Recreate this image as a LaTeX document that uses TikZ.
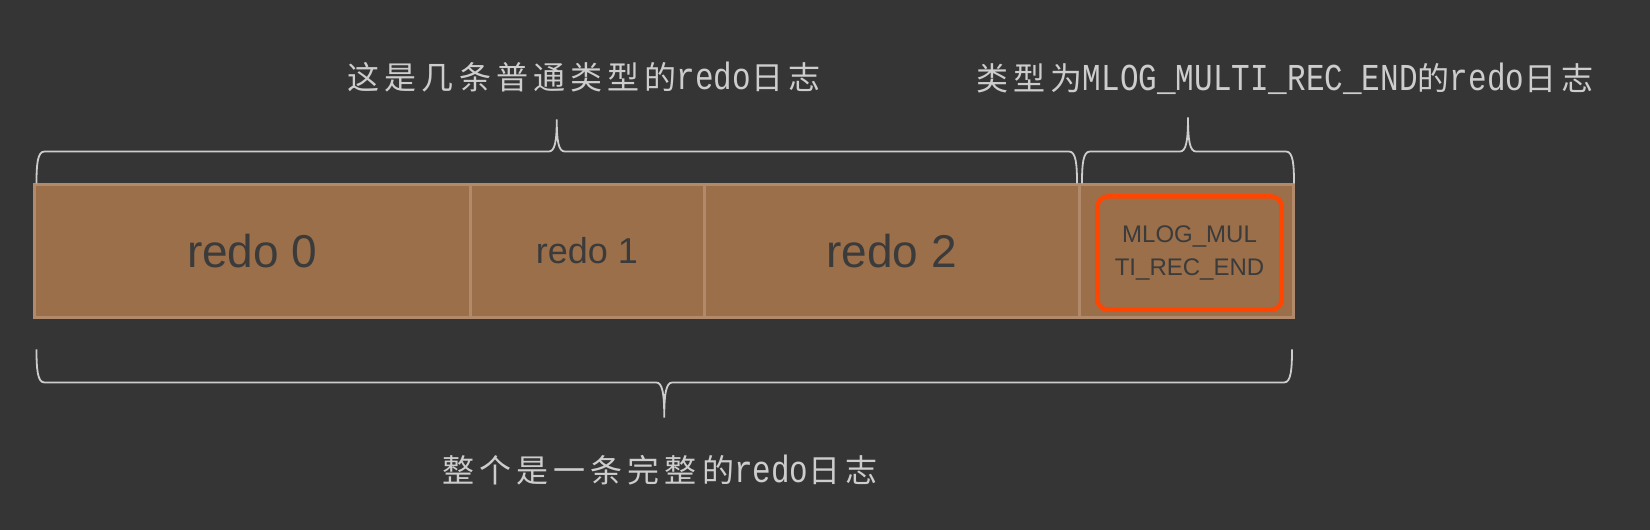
\documentclass[tikz,border=0pt]{standalone}
\usepackage{fontspec}
\setmainfont{Liberation Sans}
\newfontfamily\cjkfont[LetterSpace=16]{Noto Sans CJK SC}
\newfontfamily\monofont[FakeStretch=0.816]{Liberation Mono}
\usepackage{tikz}
\usetikzlibrary{positioning,calc}

\definecolor{bgcol}{HTML}{353535}
\definecolor{segfill}{HTML}{9A6F4A}
\definecolor{segline}{HTML}{B08A6B}
\definecolor{segtext}{HTML}{3B3B3B}
\definecolor{markred}{HTML}{FF4500}
\definecolor{notegray}{HTML}{CDCDCD}

\newcommand{\zh}[1]{{\cjkfont\fontsize{32pt}{36pt}\selectfont #1}}
\newcommand{\en}[1]{{\monofont\fontsize{38pt}{36pt}\selectfont #1}}

% #1,#2 end points, #3 rise to the bar, #4 rise of the tip
\newcommand{\curlybrace}[4]{%
  \draw[bracket] let \p1=#1, \p2=#2, \n1={(\x1+\x2)/2}, \n2={\y1+(#3)}, \n3={\y1+0.6*(#3)}, \n4={\y1+(#3)+0.3*(#4)}, \n5={\y1+(#3)+(#4)} in
    (\x1,\y1) .. controls (\x1,\n3) and ({\x1+1pt},\n2) .. ({\x1+8pt},\n2)
    -- ({\n1-8pt},\n2) .. controls ({\n1-2pt},\n2) and (\n1,\n4) .. (\n1,\n5)
    .. controls (\n1,\n4) and ({\n1+2pt},\n2) .. ({\n1+8pt},\n2)
    -- ({\x2-8pt},\n2) .. controls ({\x2-1pt},\n2) and (\x2,\n3) .. (\x2,\y1);}

\begin{document}
\begin{tikzpicture}[
  x=1pt, y=1pt,
  seg/.style={draw=segline, fill=segfill, line width=3pt, outer sep=0pt, inner sep=0pt,
    minimum height=133pt, minimum width=#1, text=segtext},
  big/.style={font=\fontsize{46pt}{50pt}\selectfont},
  mid/.style={font=\fontsize{36pt}{40pt}\selectfont},
  redbox/.style={draw=markred, line width=4.5pt, rounded corners=10pt, minimum width=184pt,
    minimum height=113pt, align=center, text=segtext, font=\fontsize{24pt}{33pt}\selectfont},
  note/.style={text=notegray, inner sep=0pt},
  bracket/.style={draw=notegray, line width=1.8pt}
]
\fill[bgcol] (0,0) rectangle (1650,530);
\useasboundingbox (0,0) rectangle (1650,530);

\node[seg=435.5pt, big] (seg0) at (252.25,279) {redo 0};
\node[seg=234pt, mid, right=0pt of seg0] (seg1) {redo 1};
\node[seg=375pt, big, right=0pt of seg1] (seg2) {redo 2};
\node[seg=214pt, right=0pt of seg2] (seg3) {};
\node[redbox] (mlog) at ($(seg3.center)+(3.5,-2)$) {MLOG\_MUL\\TI\_REC\_END};

\node[note] (plain) at (584,453) {\zh{这是几条普通类型的}\en{redo}\zh{日志}};
\node[note] (endtype) at (1285,451) {\zh{类型为}\en{MLOG\_MULTI\_REC\_END}\zh{的}\en{redo}\zh{日志}};
\node[note] (whole) at (660,60) {\zh{整个是一条完整的}\en{redo}\zh{日志}};

\curlybrace{($(seg0.north west)+(2,1)$)}{($(seg2.north east)+(-2,1)$)}{32pt}{32pt}
\curlybrace{($(seg3.north west)+(3,1)$)}{($(seg3.north east)+(1,1)$)}{32pt}{34pt}
\curlybrace{($(seg0.south west)+(2,-32)$)}{($(seg3.south east)+(-1,-32)$)}{-33pt}{-35pt}
\end{tikzpicture}
\end{document}
